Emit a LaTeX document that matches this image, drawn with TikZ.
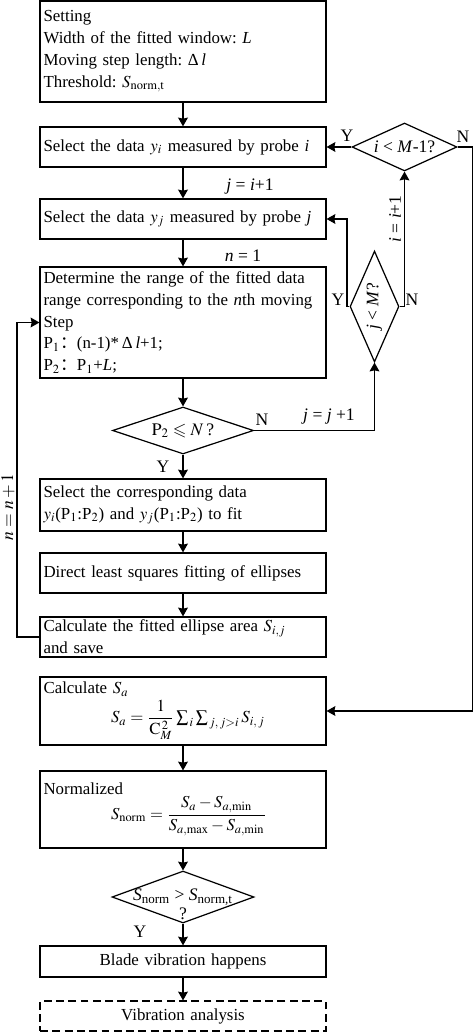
\documentclass[tikz,border=0pt]{standalone}
\usepackage{amsmath,amssymb}
\usepackage{mathptmx}
\usepackage[no-math]{fontspec}
\setmainfont{Liberation Serif}
\newfontfamily\cjk{Noto Sans CJK SC}
\frenchspacing
\hyphenpenalty=10000
\usepackage{tikz}
\usetikzlibrary{shapes.geometric, arrows, arrows.meta}
\tikzstyle{stepbox} = [rectangle, draw=black, line width=0.7pt, minimum width=5.72cm, text width=5.58cm, inner xsep=0.07cm, inner ysep=0pt, align=left, font=\fontsize{9.6}{12.4}\selectfont]
\tikzstyle{decision} = [diamond, draw=black, line width=0.7pt, inner sep=0pt, align=center, font=\fontsize{10}{12.4}\selectfont]
\tikzstyle{flag} = [inner sep=0pt, font=\fontsize{10}{12.4}\selectfont]
\tikzstyle{arrow} = [line width=0.7pt,->,>={Stealth[length=5pt,width=5.6pt,inset=0.6pt]}]

\begin{document}
\begin{tikzpicture}[x=0.02cm, y=-0.02cm]
			\useasboundingbox (0,0) rectangle (474,1033);
			% main column
			\coordinate (C01) at (183,51.5);
			\coordinate (C02) at (183,147);
			\coordinate (C03) at (183,219);
			\coordinate (C04) at (183,322.5);
			\coordinate (C05) at (183,505);
			\coordinate (C06) at (183,573);
			\coordinate (C07) at (183,637);
			\coordinate (C08) at (183,711);
			\coordinate (C09) at (183,809.5);
			\coordinate (C10) at (183,961.5);
			\coordinate (C11) at (183,1016);
			% decisions
			\coordinate (Q01) at (404.5,147);
			\coordinate (Q02) at (374.5,306.5);
			\coordinate (Q03) at (183,430.5);
			\coordinate (Q04) at (183,897);
			% bends
			\coordinate (L01) at (17,500);
			\coordinate (L02) at (347,260);
			\coordinate (L03) at (472.5,400);
			\begin{scope}[every node/.style={stepbox}]
			\node[name=C01, minimum height=2.02cm] at (C01) {Setting\\Width of the fitted window: \textit{L}\\Moving step length: Δ\,\textit{l}\\Threshold: $S_{\mathrm{norm,t}}$};
			\node[name=C02, minimum height=0.8cm] at (C02) {Select the data $y_i$ measured by probe \textit{i}};
			\node[name=C03, minimum height=0.8cm] at (C03) {Select the data $y_j$ measured by probe \textit{j}};
			\node[name=C04, minimum height=2.22cm] at (C04) {Determine the range of the fitted data\\range corresponding to the \textit{n}th moving\\Step\\P$_1${\cjk ：}(n-1)*\,Δ\,\textit{l}+1;\\P$_2${\cjk ：}P$_1$+\textit{L};};
			\node[name=C05, minimum height=1.04cm] at (C05) {Select the corresponding data\\$y_i$(P$_1$:P$_2$) and $y_j$(P$_1$:P$_2$) to fit};
			\node[name=C06, minimum height=0.8cm] at (C06) {Direct least squares fitting of ellipses};
			\node[name=C07, minimum height=0.8cm] at (C07) {Calculate the fitted ellipse area $S_{i,j}$\\and save};
			\node[name=C08, minimum height=1.36cm] at (C08) {Calculate $S_a$\\[1pt]\hspace*{1.35cm}$S_a=\dfrac{1}{\mathrm{C}_M^{\,2}}\sum\nolimits_{\,i}\sum\nolimits_{\,j,\,j>i}S_{i,\,j}$};
			\node[name=C09, minimum height=1.54cm] at (C09) {Normalized\\\hspace*{1.35cm}{\fontsize{9.5}{11}\selectfont$\displaystyle S_{\mathrm{norm}}=\frac{S_a-S_{a,\mathrm{min}}}{S_{a,\mathrm{max}}-S_{a,\mathrm{min}}}$}};
			\node[name=C10, minimum height=0.62cm, align=center] at (C10) {Blade vibration happens};
			\node[name=C11, minimum height=0.6cm, align=center, dash pattern=on 4.5pt off 2.5pt] at (C11) {Vibration analysis};
			\end{scope}
			\begin{scope}[every node/.style={decision}]
			\node[name=Q01, aspect=2.2, minimum width=2.1cm, minimum height=0.96cm] at (Q01) {\textit{i} < \textit{M}-1?};
			\node[name=Q02, aspect=0.44, minimum width=0.98cm, minimum height=2.22cm] at (Q02) {\rotatebox{90}{\textit{j} < \textit{M}?}};
			\node[name=Q03, aspect=3, minimum width=2.82cm, minimum height=0.94cm] at (Q03) {$\mathrm{P}_2\leqslant N$\,?};
			\node[name=Q04, aspect=2.7, minimum width=2.84cm, minimum height=1.04cm] at (Q04) {\makebox[0pt]{\textit{S}\textsubscript{norm} > \textit{S}\textsubscript{norm,t}}};
			\end{scope}
			% labels
			\begin{scope}[every node/.style={flag}]
			\node (T01) at (250,187) {\textit{j} = \textit{i}+1};
			\node (T02) at (243,256) {\textit{n} = 1};
			\node (T03) at (163,467) {Y};
			\node (T04) at (262,420) {N};
			\node (T05) at (329,417) {\textit{j} = \textit{j} +1};
			\node (T06) at (338,300) {Y};
			\node (T07) at (412,300) {N};
			\node[rotate=90] (T08) at (395,219) {\textit{i} = \textit{i}+1};
			\node (T09) at (347,136) {Y};
			\node (T10) at (463,137) {N};
			\node[rotate=90] (T11) at (8,507) {$n=n+1$};
			\node (T12) at (140,932) {Y};
			\node (T13) at (183,914) {?};
			\end{scope}
			% connectors
			\draw[arrow] (C01) -- (C02);
			\draw[arrow] (C02) -- (C03);
			\draw[arrow] (C03) -- (C04);
			\draw[arrow] (C04) -- (Q03);
			\draw[arrow] (Q03) -- (C05);
			\draw[arrow] (C05) -- (C06);
			\draw[arrow] (C06) -- (C07);
			\draw[arrow] (C07.west) -| (L01) |- (C04.west);
			\draw[arrow] (Q03.east) -| (Q02.south);
			\draw[arrow] (Q02.west) -| (L02) |- (C03.east);
			\draw[arrow] (Q02.east) -| (Q01.south);
			\draw[arrow] (Q01.west) -- (C02.east);
			\draw[arrow] (Q01.east) -| (L03) |- (C08.east);
			\draw[arrow] (C08) -- (C09);
			\draw[arrow] (C09) -- (Q04);
			\draw[arrow] (Q04) -- (C10);
			\draw[arrow] (C10) -- (C11);
			\end{tikzpicture}
\end{document}
